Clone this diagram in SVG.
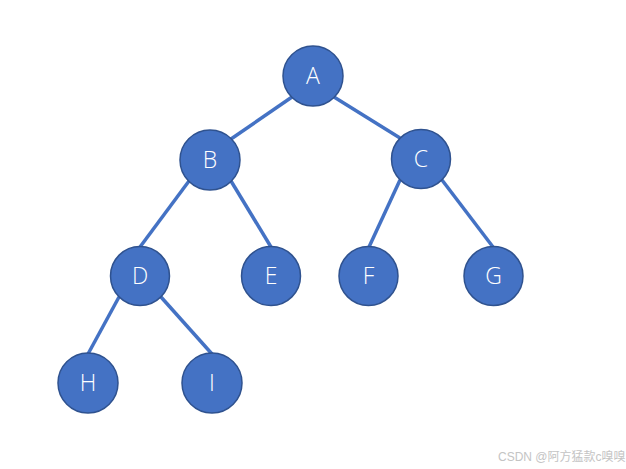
<svg xmlns="http://www.w3.org/2000/svg" width="626" height="469" viewBox="0 0 626 469">
<style>
.edge{stroke:#4472C4;stroke-width:3.5;fill:none}
.node circle{fill:#4472C4;stroke:#2F528F;stroke-width:1.5}
.node text{fill:#fff;font-family:"Open Sans","Noto Sans",sans-serif;font-size:23px;font-weight:300;text-anchor:middle}
.wm{fill:#c4c4c4;font-family:"Liberation Sans","Noto Sans CJK SC",sans-serif;font-size:12px}
</style>
<rect width="626" height="469" fill="#fff"/>
<g id="connectors">
<line class="edge" x1="292" y1="97" x2="231" y2="139"/>
<line class="edge" x1="334" y1="97" x2="400" y2="138"/>
<line class="edge" x1="189" y1="181" x2="140" y2="247"/>
<line class="edge" x1="231" y1="181" x2="271" y2="247"/>
<line class="edge" x1="400" y1="180" x2="369" y2="247"/>
<line class="edge" x1="442" y1="180" x2="493" y2="247"/>
<line class="edge" x1="119" y1="297" x2="88" y2="354"/>
<line class="edge" x1="161" y1="297" x2="212" y2="354"/>
</g>
<g id="A" class="node"><circle cx="313" cy="76" r="30"/><text x="313" y="84">A</text></g>
<g id="B" class="node"><circle cx="210" cy="160" r="30"/><text x="210" y="168">B</text></g>
<g id="C" class="node"><circle cx="421" cy="159" r="29.5"/><text x="421" y="167">C</text></g>
<g id="D" class="node"><circle cx="140" cy="276" r="29.5"/><text x="140" y="284">D</text></g>
<g id="E" class="node"><circle cx="271" cy="276" r="29.5"/><text x="271" y="284">E</text></g>
<g id="F" class="node"><circle cx="368.5" cy="276" r="29.5"/><text x="368.5" y="284">F</text></g>
<g id="G" class="node"><circle cx="493.5" cy="276" r="29.5"/><text x="493.5" y="284">G</text></g>
<g id="H" class="node"><circle cx="88" cy="383" r="30"/><text x="88" y="391">H</text></g>
<g id="I" class="node"><circle cx="212" cy="383" r="30"/><text x="212" y="391">I</text></g>
<text class="wm" x="498" y="461">CSDN @阿方猛款c嗅嗅</text>
</svg>
